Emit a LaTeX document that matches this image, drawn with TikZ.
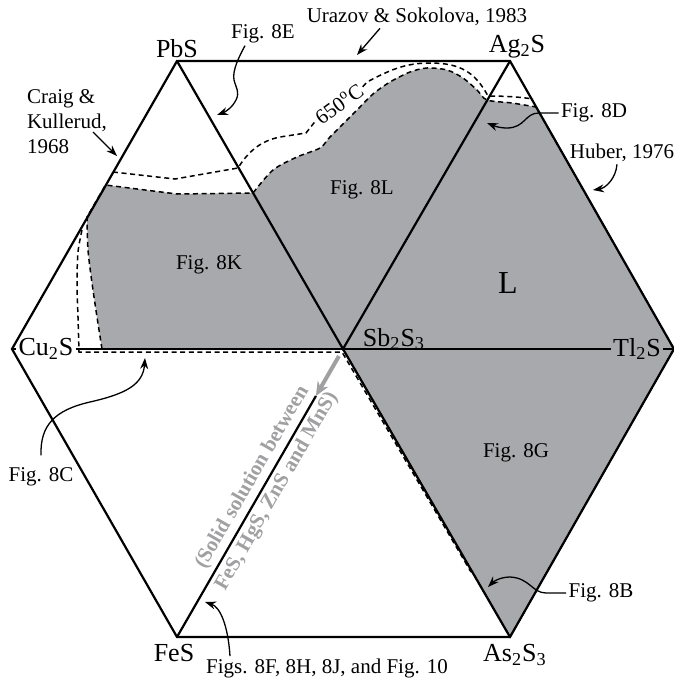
\documentclass[tikz,border=0pt]{standalone}
\usepackage{fontspec}
\setmainfont{Liberation Serif}
\usetikzlibrary{positioning, arrows.meta, calc}
\definecolor{phasegray}{RGB}{167,169,172}
\definecolor{notegray}{RGB}{160,160,162}

\begin{document}
\begin{tikzpicture}[x=0.5pt, y=0.5pt,
  edge/.style={line width=1.1pt, line join=miter},
  bound/.style={dash pattern=on 2.5pt off 1.8pt, line width=0.75pt},
  arr/.style={-{Stealth[length=5.5pt, width=4pt]}, line width=0.65pt},
  vtx/.style={font=\fontsize{13}{15}\selectfont, inner sep=1pt},
  lbl/.style={font=\fontsize{10.5}{12.5}\selectfont, inner sep=1pt},
  note/.style={font=\fontsize{10.5}{14}\selectfont\bfseries, text=notegray, align=center, inner sep=0pt},
]
\useasboundingbox (0,0) rectangle (674,-681);

% ---------- Corners of the hexagon ----------
\coordinate (pbs) at (177,-61);
\coordinate (ags) at (510,-61);
\coordinate (tls) at (674,-349);
\coordinate (ass) at (510,-637);
\coordinate (fes) at (177,-637);
\coordinate (cus) at (12,-349);
\coordinate (sbs) at (343,-349);
\coordinate (ss) at ($(fes)!0.837!(sbs)$);

% ---------- Liquid field (grey), outlined dashed ----------
\filldraw[fill=phasegray, bound]
  plot[smooth] coordinates {(102,-349) (97,-317) (92,-283) (88,-250) (87,-217)}
  -- (105.5,-185) -- (177,-194) -- (253,-193)
  -- plot[smooth] coordinates {(253,-193) (273,-170) (297,-157) (320,-148) (330,-137)
       (357,-110) (373,-94) (390,-82) (410,-72) (427,-68) (447,-70) (463,-78)
       (477,-90) (487,-100) (512,-103) (536,-107)}
  -- (tls) -- (ass) -- (sbs) -- cycle;

% ---------- Other dashed limits ----------
\draw[bound] plot[smooth] coordinates {(82,-230) (78,-252) (77,-283) (78,-317) (79,-352)}
  -- (342,-352) -- (471,-572);

\node[lbl, rotate=36] (t650) at (339,-104) {650\textsuperscript{o}C};
\draw[bound] (113,-172) -- (175,-179) -- (238,-168)
  .. controls (248,-152) and (260,-141) .. (280,-137) -- (306,-133) -- (t650.west);
\draw[bound] (t650.east) -- (367,-82) .. controls (390,-70) and (405,-63) .. (430,-63)
  .. controls (460,-63) and (475,-72) .. (488,-96)
  .. controls (505,-96) and (520,-97) .. (533,-99);

% ---------- Joins ----------
\node[vtx] (pbsl) at (177,-49) {PbS};
\node[vtx] (agsl) at (517,-47) {Ag\textsubscript{2}S};
\node[vtx] (cusl) at (46,-349) {Cu\textsubscript{2}S};
\node[vtx] (tlsl) at (637,-349) {Tl\textsubscript{2}S};
\node[vtx] (sbsl) at (394,-339) {Sb\textsubscript{2}S\textsubscript{3}};
\node[vtx] (fesl) at (174,-653) {FeS};
\node[vtx] (assl) at (515,-655) {As\textsubscript{2}S\textsubscript{3}};

\draw[edge] (pbs) -- (ags) -- (tls) -- (ass) -- (fes) -- (cus) -- cycle;
\draw[edge] (pbs) -- (sbs) -- (ags);
\draw[edge] (sbs) -- (ass);
\draw[edge] (fes) -- (ss);
\draw[edge] (cus) -- (cusl.west);
\draw[edge] (cusl.east) -- (tlsl.west);
\draw[edge] (tlsl.east) -- (tls);

% ---------- Solid solution along FeS - Sb2S3 ----------
\draw[-{Stealth[length=7pt, width=6pt]}, notegray, line width=2pt] ($(sbs)!0.15!(ss)$) -- (ss);
\node[note, rotate=60] (solid) at ($(fes)!0.53!(sbs)$)
  {(Solid solution between\\FeS, HgS, ZnS and MnS)};

% ---------- Field labels ----------
\node[lbl] (f8L) at (362,-190) {Fig. 8L};
\node[lbl] (f8K) at (209,-265) {Fig. 8K};
\node[lbl] (f8G) at (516,-453) {Fig. 8G};
\node[font=\fontsize{16}{18}\selectfont] (liq) at (508,-283) {L};

% ---------- Sources and figure pointers ----------
\node[lbl] (uraz) at (417,-17) {Urazov \& Sokolova, 1983};
\node[lbl] (fig8E) at (263,-34) {Fig. 8E};
\node[lbl, align=left] (craig) at (67,-122) {Craig \&\\Kullerud,\\1968};
\node[lbl] (fig8D) at (594,-113) {Fig. 8D};
\node[lbl] (huber) at (622,-153) {Huber, 1976};
\node[lbl] (fig8B) at (601,-593) {Fig. 8B};
\node[lbl] (fig8C) at (41,-477) {Fig. 8C};
\node[lbl] (figs) at (327,-668) {Figs. 8F, 8H, 8J, and Fig. 10};

\coordinate (tU) at (357,-55);
\coordinate (tE) at (217,-115);
\coordinate (tK) at (117,-156);
\coordinate (tD) at (487,-123);
\coordinate (tH) at (593,-190);
\coordinate (tB) at (488,-587);
\coordinate (tC) at (145,-358);
\coordinate (tF) at (205,-602);

\draw[arr] ([xshift=-18.5pt]uraz.south) -- (tU);
\draw[arr] ([xshift=-9pt]fig8E.south) .. controls (240,-55) and (232,-70) .. (234,-80)
  .. controls (236,-88) and (240,-92) .. (236,-100)
  .. controls (232,-108) and (225,-112) .. (tE);
\draw[arr] ($(craig.center)+(26,-10)$) -- (tK);
\draw[arr] (fig8D.west) -- ++(-20,0) .. controls (525,-113) and (525,-128) .. (507,-128)
  .. controls (498,-128) and (492,-125) .. (tD);
\draw[arr] ([xshift=-2.5pt]huber.south) .. controls (616,-178) and (606,-188) .. (tH);
\draw[arr] (fig8B.west) -- ++(-20,0) .. controls (532,-593) and (530,-578) .. (510,-577)
  .. controls (500,-577) and (493,-582) .. (tB);
\draw[arr] ([yshift=5pt]fig8C.north) .. controls (40,-425) and (55,-410) .. (90,-402)
  .. controls (125,-394) and (143,-385) .. (tC);
\draw[arr] ([xshift=-48.5pt]figs.north) .. controls (228,-625) and (220,-607) .. (tF);

\end{tikzpicture}
\end{document}
